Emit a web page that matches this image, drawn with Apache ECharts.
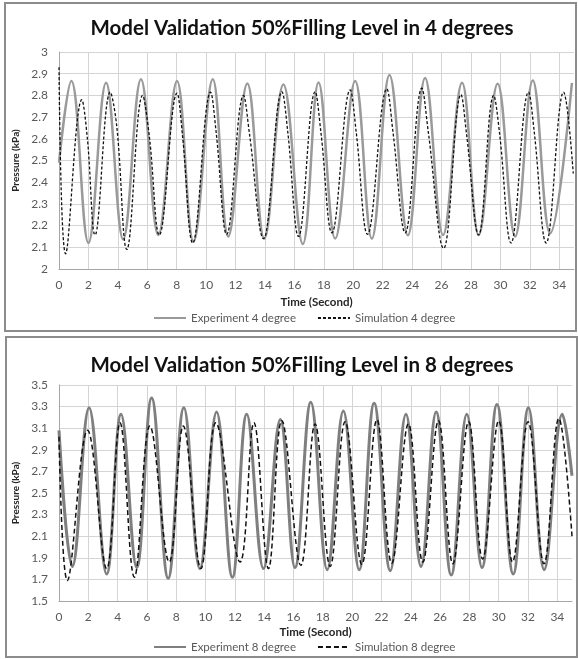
<!DOCTYPE html>
<html>
<head>
<meta charset="utf-8">
<script src="https://cdn.jsdelivr.net/npm/echarts@6/dist/echarts.min.js"></script>
<style>
  html, body { margin: 0; padding: 0; background: #fff; }
  #chart { width: 578px; height: 659px; }
</style>
</head>
<body>
<div id="chart"></div>
<script>
// panel 1: 4 degrees
const expTime4 = [0, 0.84, 2.0, 3.2, 4.36, 5.57, 6.75, 8.02, 9.14, 10.45, 11.5, 12.8, 13.95, 15.25, 16.57, 17.64, 18.77, 20.13, 21.26, 22.46, 23.71, 24.88, 26.1, 27.39, 28.52, 29.81, 31.0, 32.2, 33.38, 34.86]
const expVal4 = [2.49, 2.866, 2.12, 2.858, 2.137, 2.874, 2.157, 2.866, 2.126, 2.874, 2.15, 2.855, 2.14, 2.85, 2.115, 2.86, 2.14, 2.866, 2.14, 2.894, 2.155, 2.88, 2.157, 2.858, 2.157, 2.854, 2.15, 2.869, 2.165, 2.858]
const simTime4 = [0, 0.45, 1.55, 1.93, 2.45, 3.48, 3.93, 4.61, 5.68, 6.14, 6.82, 8.02, 8.4, 9.09, 10.3, 10.68, 11.4, 12.54, 12.95, 13.9, 15.15, 15.55, 16.28, 17.41, 17.8, 18.55, 19.79, 20.2, 20.97, 22.28, 22.7, 23.53, 24.66, 25.1, 26.14, 27.32, 27.7, 28.52, 29.54, 29.95, 30.72, 31.91, 32.3, 33.11, 34.29, 34.95]
const simVal4 = [2.93, 2.07, 2.78, 2.6, 2.157, 2.815, 2.655, 2.09, 2.8, 2.61, 2.157, 2.81, 2.61, 2.12, 2.815, 2.63, 2.16, 2.8, 2.62, 2.14, 2.817, 2.63, 2.15, 2.817, 2.63, 2.167, 2.825, 2.63, 2.16, 2.83, 2.63, 2.167, 2.833, 2.63, 2.095, 2.804, 2.62, 2.157, 2.8, 2.62, 2.12, 2.815, 2.63, 2.12, 2.815, 2.44]

// panel 2: 8 degrees
const expTime8 = [0, 0.91, 2.05, 3.25, 4.23, 5.3, 6.32, 7.45, 8.52, 9.61, 10.75, 11.83, 12.81, 13.95, 15.1, 16.1, 17.18, 18.3, 19.4, 20.48, 21.5, 22.6, 23.67, 24.7, 25.73, 26.76, 27.82, 28.86, 29.88, 30.99, 32.03, 33.1, 34.34, 35.0]
const expVal8 = [3.08, 1.82, 3.29, 1.75, 3.23, 1.81, 3.38, 1.71, 3.29, 1.8, 3.25, 1.72, 3.23, 1.8, 3.18, 1.81, 3.34, 1.79, 3.26, 1.79, 3.33, 1.78, 3.23, 1.82, 3.25, 1.74, 3.23, 1.81, 3.32, 1.75, 3.29, 1.79, 3.23, 2.66]
const simTime8 = [0, 0.57, 1.95, 3.25, 4.16, 5.14, 6.2, 7.52, 8.48, 9.68, 10.7, 12.35, 13.3, 14.29, 15.2, 16.5, 17.47, 18.5, 19.52, 20.66, 21.69, 22.7, 23.84, 24.82, 25.89, 26.87, 27.95, 28.9, 30.0, 30.94, 32.0, 33.09, 34.1, 35.0]
const simVal8 = [3.02, 1.69, 3.08, 1.8, 3.15, 1.72, 3.12, 1.86, 3.12, 1.8, 3.15, 1.86, 3.15, 1.8, 3.17, 1.83, 3.14, 1.82, 3.16, 1.84, 3.18, 1.85, 3.14, 1.86, 3.17, 1.845, 3.16, 1.89, 3.17, 1.86, 3.16, 1.845, 3.19, 2.1]

const xTicks = { min: 0, max: 35, interval: 2 }

const pairs = (xs, ys) => xs.map((x, i) => [x, ys[i]])

const txt = '#595959'
const gridColor = '#d4d4d4'
const axisColor = '#a6a6a6'
const fontFamily = 'Lato, "Open Sans", sans-serif'

function xAxis(gridIndex, nameGap) {
  return {
    type: 'value', gridIndex, ...xTicks,
    name: 'Time (Second)', nameLocation: 'middle', nameGap,
    nameTextStyle: { fontFamily, fontWeight: 'bold', fontSize: 11.5, color: '#262626' },
    axisLine: { show: true, lineStyle: { color: axisColor } },
    axisTick: { show: false },
    axisLabel: { color: txt, fontFamily, fontSize: 12, margin: 10, showMaxLabel: false },
    splitLine: { show: true, showMaxLine: false, lineStyle: { color: gridColor } },
  }
}

function yAxis(gridIndex, min, max, interval) {
  return {
    type: 'value', gridIndex, min, max, interval,
    name: 'Pressure (kPa)', nameLocation: 'middle', nameGap: 33,
    nameTextStyle: { fontFamily, fontWeight: 'bold', fontSize: 10, color: '#262626' },
    axisLine: { show: true, lineStyle: { color: axisColor } },
    axisTick: { show: false },
    axisLabel: { color: txt, fontFamily, fontSize: 12, margin: 11 },
    splitLine: { show: true, lineStyle: { color: gridColor } },
  }
}

function legend(names, top) {
  return {
    data: names, left: 148, top, itemWidth: 32, itemHeight: 12, itemGap: 21,
    itemStyle: { opacity: 0 },
    textStyle: { color: txt, fontFamily, fontSize: 11.5 },
  }
}

const chart = echarts.init(document.getElementById('chart'))

chart.setOption({
  backgroundColor: '#fff',
  animation: false,
  graphic: [
    { type: 'rect', shape: { x: 5, y: 3, width: 571, height: 328 }, style: { fill: 'none', stroke: '#8c8c8c', lineWidth: 2 } },
    { type: 'rect', shape: { x: 6, y: 337, width: 571, height: 320 }, style: { fill: 'none', stroke: '#8c8c8c', lineWidth: 2 } },
  ],
  title: [
    { text: 'Model Validation 50%Filling Level in 4 degrees', left: 297, top: 13, textAlign: 'center',
      textStyle: { fontFamily, fontWeight: 'bold', fontSize: 20.5, color: '#111' } },
    { text: 'Model Validation 50%Filling Level in 8 degrees', left: 297, top: 350, textAlign: 'center',
      textStyle: { fontFamily, fontWeight: 'bold', fontSize: 20.5, color: '#111' } },
  ],
  legend: [
    legend(['Experiment 4 degree', 'Simulation 4 degree'], 307),
    legend(['Experiment 8 degree', 'Simulation 8 degree'], 636),
  ],
  grid: [
    { left: 59, top: 52, width: 515, height: 217 },
    { left: 59, top: 385, width: 513, height: 216 },
  ],
  xAxis: [xAxis(0, 27), xAxis(1, 25)],
  yAxis: [yAxis(0, 2, 3, 0.1), yAxis(1, 1.5, 3.5, 0.2)],
  series: [
    { name: 'Experiment 4 degree', type: 'line', xAxisIndex: 0, yAxisIndex: 0, data: pairs(expTime4, expVal4),
      smooth: 0.4, symbol: 'none', lineStyle: { color: '#9a9a9a', width: 2.5 }, itemStyle: { color: '#9a9a9a' } },
    { name: 'Simulation 4 degree', type: 'line', xAxisIndex: 0, yAxisIndex: 0, data: pairs(simTime4, simVal4),
      smooth: 0.4, symbol: 'none', lineStyle: { color: '#111', width: 1.3, type: [3, 2] }, itemStyle: { color: '#111' } },
    { name: 'Experiment 8 degree', type: 'line', xAxisIndex: 1, yAxisIndex: 1, data: pairs(expTime8, expVal8),
      smooth: 0.4, symbol: 'none', lineStyle: { color: '#7f7f7f', width: 3 }, itemStyle: { color: '#7f7f7f' } },
    { name: 'Simulation 8 degree', type: 'line', xAxisIndex: 1, yAxisIndex: 1, data: pairs(simTime8, simVal8),
      smooth: 0.4, symbol: 'none', lineStyle: { color: '#111', width: 1.5, type: [5, 3] }, itemStyle: { color: '#111' } },
  ],
})
</script>
</body>
</html>
